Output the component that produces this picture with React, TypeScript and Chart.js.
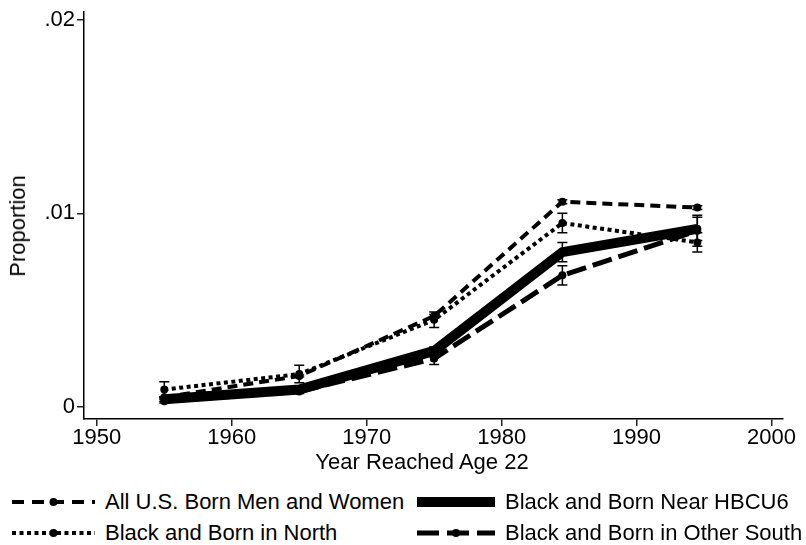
import React, { useEffect, useRef } from "react";
import { Chart, registerables } from "chart.js";

Chart.register(...registerables);

// ---- data ----
const years = [1955, 1965, 1975, 1984.5, 1994.5];
const allUS = [0.0005, 0.0016, 0.0047, 0.0106, 0.0103];
const north = [0.0009, 0.0017, 0.0045, 0.0095, 0.0085];
const hbcu6 = [0.0004, 0.0009, 0.0029, 0.008, 0.0092];
const otherSouth = [0.0003, 0.0008, 0.0025, 0.0068, 0.0091];
const allUSErr = [0.00003, 0.00005, 0.00008, 0.0001, 0.0001];
const northErr = [0.0004, 0.00045, 0.0004, 0.0005, 0.0005];
const hbcu6Err = [0.0001, 0.0001, 0.0002, 0.0005, 0.0006];
const otherSouthErr = [0.0001, 0.0001, 0.0003, 0.0005, 0.0008];
const seriesNames = [
  "All U.S. Born Men and Women",
  "Black and Born Near HBCU6",
  "Black and Born in North",
  "Black and Born in Other South",
];
const xTicks = [1950, 1960, 1970, 1980, 1990, 2000];
const yTicks = [0, 0.01, 0.02];
const yTickLabels = ["0", ".01", ".02"];
const xTitle = "Year Reached Age 22";
const yTitle = "Proportion";

const FONT = '"Liberation Sans", Arial, Helvetica, sans-serif';

const errorBarPlugin = {
  id: "errorBars",
  afterDatasetsDraw(chart: any) {
    const { ctx, scales } = chart;
    const xs = scales.x;
    const ys = scales.y;
    ctx.save();
    ctx.strokeStyle = "#000";
    ctx.lineWidth = 1.5;
    chart.data.datasets.forEach((ds: any) => {
      const errs: number[] = ds.errors || [];
      ds.data.forEach((p: any, i: number) => {
        const e = errs[i];
        if (!e) return;
        const px = xs.getPixelForValue(p.x);
        const top = ys.getPixelForValue(p.y + e);
        const bot = ys.getPixelForValue(p.y - e);
        ctx.beginPath();
        ctx.moveTo(px, top);
        ctx.lineTo(px, bot);
        ctx.moveTo(px - 5, top);
        ctx.lineTo(px + 5, top);
        ctx.moveTo(px - 5, bot);
        ctx.lineTo(px + 5, bot);
        ctx.stroke();
      });
    });
    ctx.restore();
  },
};

function toPoints(vals: number[]) {
  return years.map((x, i) => ({ x, y: vals[i] }));
}

function LegendSample({ width, dash, lw, marker }: { width: number; dash?: string; lw: number; marker: boolean }) {
  return (
    <svg width={width} height={14} style={{ display: "block" }}>
      <line x1={0} y1={7} x2={width} y2={7} stroke="#000" strokeWidth={lw} strokeDasharray={dash} />
      {marker ? <circle cx={width / 2} cy={7} r={4} fill="#000" /> : null}
    </svg>
  );
}

export default function App() {
  const ref = useRef<HTMLCanvasElement | null>(null);

  useEffect(() => {
    if (!ref.current) return;
    const chart = new Chart(ref.current, {
      type: "line",
      data: {
        datasets: [
          {
            label: seriesNames[0],
            data: toPoints(allUS),
            errors: allUSErr,
            borderColor: "#000",
            backgroundColor: "#000",
            borderWidth: 4,
            borderDash: [10, 6],
            pointRadius: 4,
            pointBorderWidth: 0,
            tension: 0,
          } as any,
          {
            label: seriesNames[1],
            data: toPoints(hbcu6),
            errors: hbcu6Err,
            borderColor: "#000",
            backgroundColor: "#000",
            borderWidth: 10,
            pointRadius: 4,
            pointBorderWidth: 0,
            tension: 0,
          } as any,
          {
            label: seriesNames[2],
            data: toPoints(north),
            errors: northErr,
            borderColor: "#000",
            backgroundColor: "#000",
            borderWidth: 4,
            borderDash: [4, 3.5],
            pointRadius: 4,
            pointBorderWidth: 0,
            tension: 0,
          } as any,
          {
            label: seriesNames[3],
            data: toPoints(otherSouth),
            errors: otherSouthErr,
            borderColor: "#000",
            backgroundColor: "#000",
            borderWidth: 5,
            borderDash: [20, 7],
            pointRadius: 4,
            pointBorderWidth: 0,
            tension: 0,
          } as any,
        ],
      },
      options: {
        responsive: false,
        animation: false,
        devicePixelRatio: 1,
        layout: { padding: { top: 12, right: 23, left: 0, bottom: 0 } },
        plugins: {
          legend: { display: false },
          tooltip: { enabled: false },
        },
        scales: {
          x: {
            type: "linear",
            min: 1949.05,
            max: 2000.85,
            afterBuildTicks: (s: any) => {
              s.ticks = xTicks.map((v) => ({ value: v }));
            },
            afterFit: (s: any) => {
              s.height = 61;
            },
            grid: {
              drawOnChartArea: false,
              drawTicks: true,
              tickLength: 7,
              color: "#222",
              lineWidth: 1.5,
            },
            border: { display: true, color: "#000", width: 1.5 },
            ticks: {
              color: "#000",
              padding: 0,
              maxRotation: 0,
              autoSkip: false,
              font: { family: FONT, size: 22, lineHeight: 1.1 },
              callback: (v: any) => String(v),
            },
          },
          y: {
            type: "linear",
            min: -0.00062,
            max: 0.0204,
            afterBuildTicks: (s: any) => {
              s.ticks = yTicks.map((v) => ({ value: v }));
            },
            afterFit: (s: any) => {
              s.width = 84;
            },
            grid: {
              drawOnChartArea: false,
              drawTicks: true,
              tickLength: 7,
              color: "#222",
              lineWidth: 1.5,
            },
            border: { display: true, color: "#000", width: 1.5 },
            ticks: {
              color: "#000",
              padding: 2,
              autoSkip: false,
              font: { family: FONT, size: 22, lineHeight: 0.8 },
              callback: (v: any) => {
                const i = yTicks.indexOf(v);
                return i >= 0 ? yTickLabels[i] : "";
              },
            },
          },
        },
      } as any,
      plugins: [errorBarPlugin],
    });
    return () => chart.destroy();
  }, []);

  const textStyle: React.CSSProperties = {
    position: "absolute",
    fontSize: 22,
    lineHeight: "22px",
    whiteSpace: "nowrap",
    fontFamily: FONT,
    color: "#000",
  };

  const legendItems = [
    { name: seriesNames[0], left: 12, top: 502, w: 83, dash: "12 8", lw: 4, marker: true },
    { name: seriesNames[1], left: 417, top: 502, w: 78, dash: undefined, lw: 10, marker: false },
    { name: seriesNames[2], left: 12, top: 533, w: 83, dash: "4 3.5", lw: 4, marker: true },
    { name: seriesNames[3], left: 417, top: 533, w: 78, dash: "22 8", lw: 5, marker: true },
  ];

  return (
    <div
      style={{
        position: "fixed",
        left: 0,
        top: 0,
        width: 806,
        height: 545,
        background: "#fff",
        overflow: "hidden",
        fontFamily: FONT,
      }}
    >
      <canvas
        ref={ref}
        width={806}
        height={480}
        style={{ position: "absolute", left: 0, top: 0, width: 806, height: 480 }}
      />
      <div style={{ ...textStyle, left: 422, top: 462, transform: "translate(-50%, -50%)" }}>{xTitle}</div>
      <div
        style={{
          ...textStyle,
          left: 18,
          top: 226,
          transform: "translate(-50%, -50%) rotate(-90deg)",
        }}
      >
        {yTitle}
      </div>
      {legendItems.map((it) => (
        <div
          key={it.name}
          style={{
            position: "absolute",
            left: it.left,
            top: it.top,
            transform: "translateY(-50%)",
            display: "flex",
            alignItems: "center",
          }}
        >
          <LegendSample width={it.w} dash={it.dash} lw={it.lw} marker={it.marker} />
          <span style={{ ...textStyle, position: "static", marginLeft: 10 }}>{it.name}</span>
        </div>
      ))}
    </div>
  );
}
